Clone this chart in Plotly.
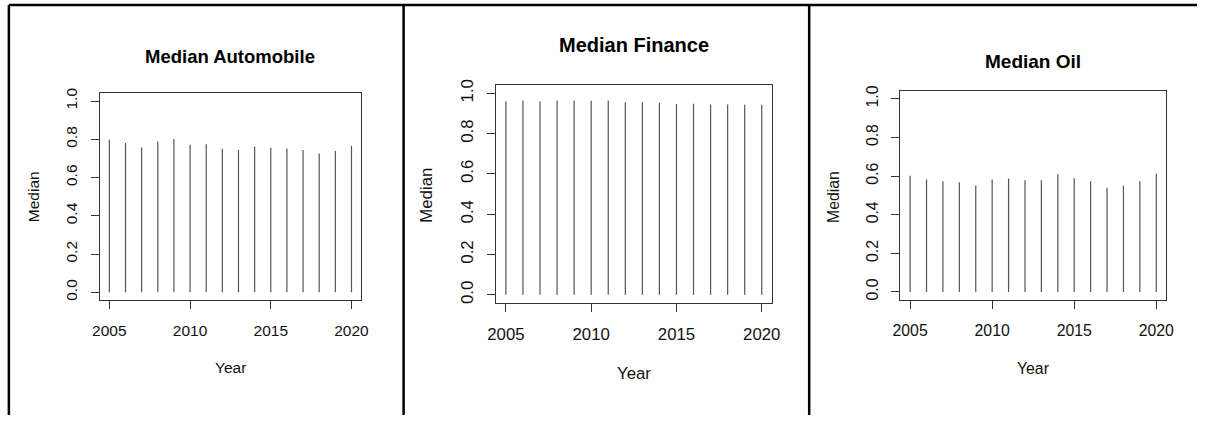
import plotly.graph_objects as go

W, H = 1213, 424

years = list(range(2005, 2021))
automobile = [0.797, 0.781, 0.757, 0.788, 0.802, 0.771, 0.774, 0.750,
              0.745, 0.762, 0.756, 0.752, 0.744, 0.726, 0.740, 0.766]
finance = [0.961, 0.964, 0.959, 0.964, 0.964, 0.963, 0.964, 0.956,
           0.955, 0.953, 0.947, 0.948, 0.945, 0.945, 0.943, 0.943]
oil = [0.602, 0.582, 0.573, 0.568, 0.551, 0.582, 0.587, 0.578,
       0.578, 0.609, 0.589, 0.573, 0.540, 0.550, 0.573, 0.612]

titles = ["Median Automobile", "Median Finance", "Median Oil"]
series = [automobile, finance, oil]
x_ticks = [2005, 2010, 2015, 2020]
y_ticks = [0.0, 0.2, 0.4, 0.6, 0.8, 1.0]
y_ticklabels = ["0.0", "0.2", "0.4", "0.6", "0.8", "1.0"]

# panel geometry in picture pixels
panels = [
    dict(l=101, r=366, t=97, b=307, title_y=59, ylab_x=34, ylab_y=202, xlab_y=376,
         tick_fs=15.5, title_fs=18.5),
    dict(l=502.3, r=782.3, t=88.7, b=310, title_y=47.7, ylab_x=432.7, ylab_y=200, xlab_y=381.7,
         tick_fs=16.8, title_fs=20),
    dict(l=912.3, r=1181.7, t=94.7, b=306.7, title_y=64.3, ylab_x=844, ylab_y=202.5, xlab_y=376.7,
         tick_fs=15.8, title_fs=19),
]

FONT = "Liberation Sans, Arial, Helvetica, sans-serif"
AX = "#333333"

fig = go.Figure()
annotations = []
layout_axes = {}

for i, (vals, title, p) in enumerate(zip(series, titles, panels)):
    idx = "" if i == 0 else str(i + 1)
    xs, ys = [], []
    for yr, v in zip(years, vals):
        xs += [yr, yr, None]
        ys += [0, v, None]
    fig.add_trace(go.Scatter(
        x=xs, y=ys, mode="lines",
        line=dict(color="#555555", width=1.2),
        xaxis="x" + idx, yaxis="y" + idx, showlegend=False, hoverinfo="skip",
    ))
    cx = (p["l"] + p["r"]) / 2 / W
    layout_axes["xaxis" + idx] = dict(
        domain=[p["l"] / W, p["r"] / W], anchor="y" + idx,
        range=[2004.4, 2020.6], tickvals=x_ticks, ticktext=[str(t) for t in x_ticks],
        showgrid=False, zeroline=False, showline=True, mirror=True,
        linecolor=AX, linewidth=1, ticks="outside", ticklen=8, tickcolor=AX,
        tickfont=dict(family=FONT, size=p["tick_fs"], color="#111"),
        ticklabelstandoff=8,
    )
    layout_axes["yaxis" + idx] = dict(
        domain=[1 - p["b"] / H, 1 - p["t"] / H], anchor="x" + idx,
        range=[-0.04, 1.04], tickvals=y_ticks, ticktext=y_ticklabels,
        showgrid=False, zeroline=False, showline=True, mirror=True,
        linecolor=AX, linewidth=1, ticks="outside", ticklen=8, tickcolor=AX,
        tickangle=-90,
        tickfont=dict(family=FONT, size=p["tick_fs"], color="#111"),
        ticklabelstandoff=7,
    )
    annotations.append(dict(
        text="<b>" + title + "</b>", x=cx, y=1 - p["title_y"] / H,
        xref="paper", yref="paper", xanchor="center", yanchor="middle",
        showarrow=False, font=dict(family=FONT, size=p["title_fs"], color="#000"),
    ))
    annotations.append(dict(
        text="Year", x=cx, y=1 - p["xlab_y"] / H,
        xref="paper", yref="paper", xanchor="center", yanchor="middle",
        showarrow=False, font=dict(family=FONT, size=p["tick_fs"], color="#111"),
    ))
    annotations.append(dict(
        text="Median", x=p["ylab_x"] / W, y=1 - p["ylab_y"] / H,
        xref="paper", yref="paper", xanchor="center", yanchor="middle",
        textangle=-90,
        showarrow=False, font=dict(family=FONT, size=p["tick_fs"], color="#111"),
    ))

# outer frame lines (top, left, two dividers)
shapes = []


def line(x0, y0, x1, y1):
    return dict(type="line", xref="paper", yref="paper",
                x0=x0 / W, y0=1 - y0 / H, x1=x1 / W, y1=1 - y1 / H,
                line=dict(color="#000", width=2.5))


shapes.append(line(9, 7, W, 7))
shapes.append(line(9, 7, 9, H))
shapes.append(line(409, 7, 409, H))
shapes.append(line(820, 7, 820, H))

# the plot div gets the exact size; its negative margin cancels the
# browser's default 8px body margin so the figure sits at the page corner
fig.update_layout(
    autosize=True, margin=dict(l=0, r=0, t=0, b=0),
    paper_bgcolor="white", plot_bgcolor="white",
    annotations=annotations, shapes=shapes, **layout_axes,
)

fig.write_html(
    "out.html",
    default_width=f"{W}px; margin:-8px",
    default_height=f"{H}px",
)
